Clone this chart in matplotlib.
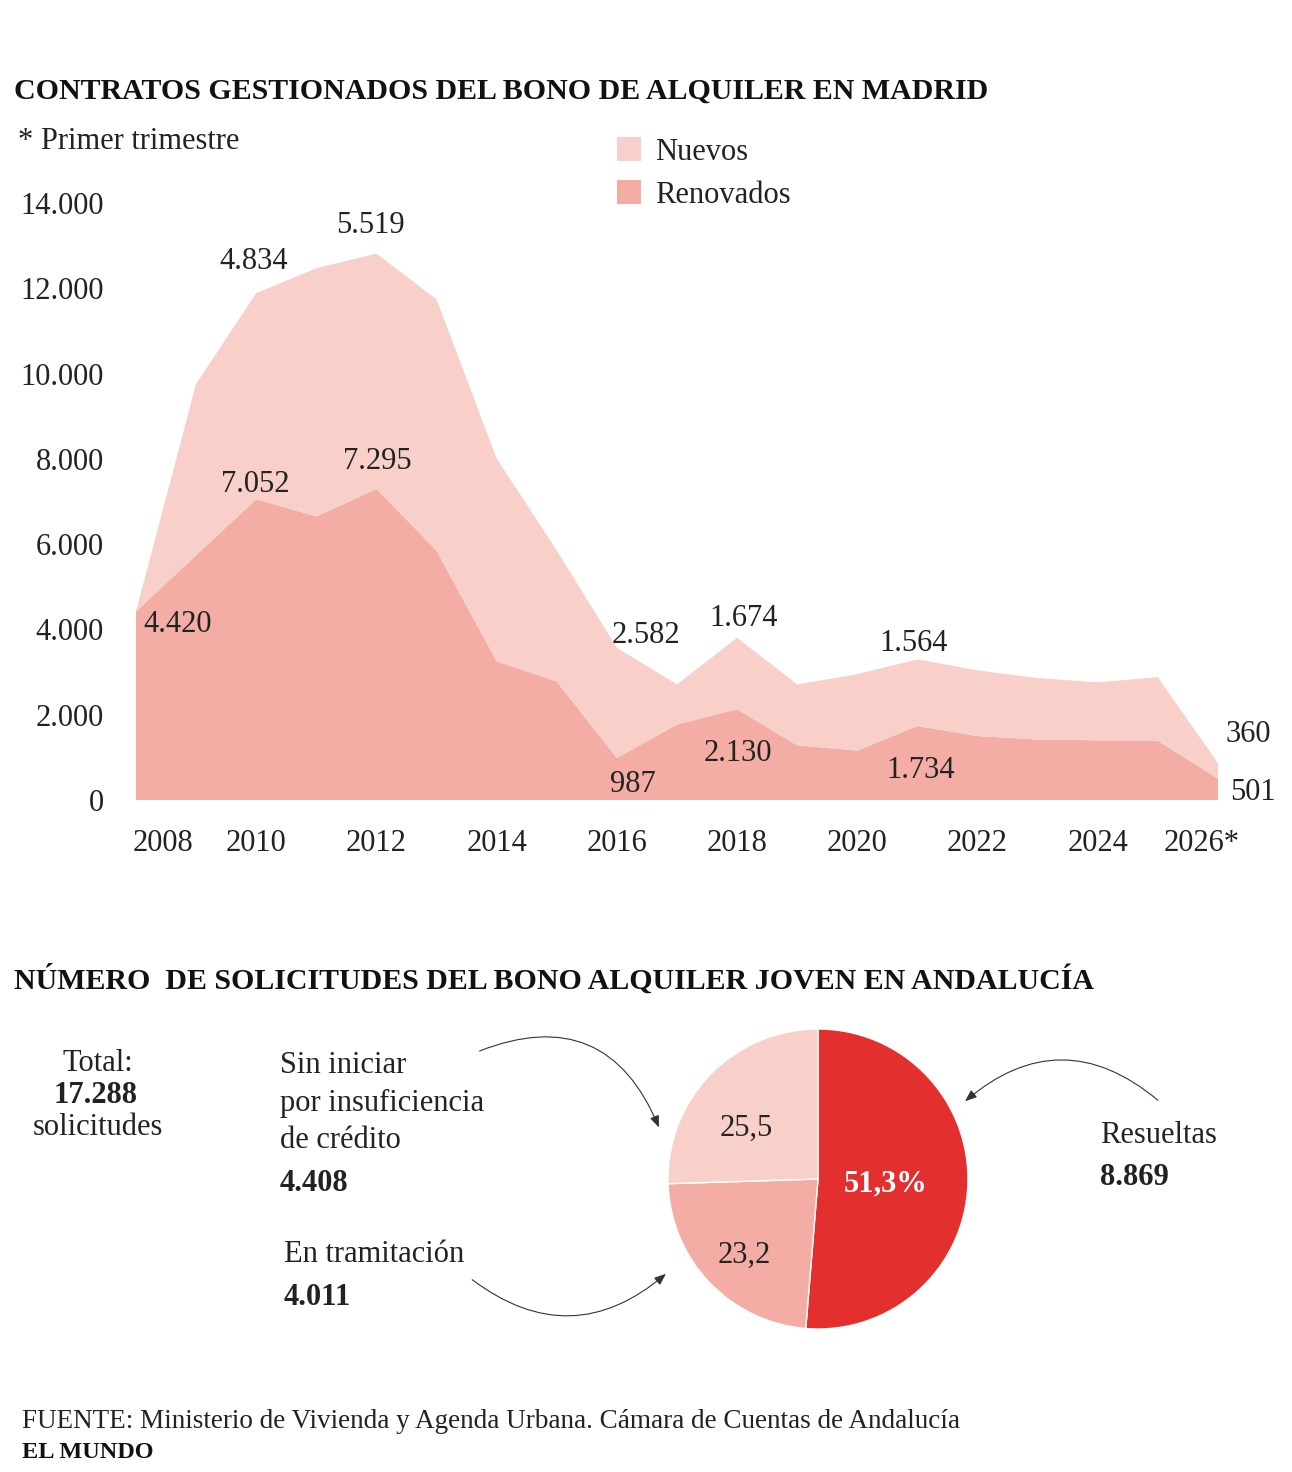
import matplotlib
matplotlib.use('Agg')
import matplotlib.pyplot as plt
from matplotlib.patches import Rectangle, FancyArrowPatch
import matplotlib.transforms as mtransforms

plt.rcParams['font.family'] = ['Liberation Serif', 'DejaVu Serif']

# ---------------- data ----------------
years = list(range(2008, 2027))
renovados = [4420, 5740, 7052, 6650, 7295, 5850, 3250, 2780, 987, 1770, 2130,
             1280, 1160, 1734, 1500, 1420, 1400, 1390, 501]
nuevos = [0, 4020, 4834, 5820, 5519, 5890, 4760, 3070, 2582, 940, 1674,
          1430, 1790, 1564, 1540, 1440, 1360, 1490, 360]

ytick_vals = [0, 2000, 4000, 6000, 8000, 10000, 12000, 14000]
ytick_labels = ['0', '2.000', '4.000', '6.000', '8.000', '10.000', '12.000', '14.000']
xtick_years = [2008, 2010, 2012, 2014, 2016, 2018, 2020, 2022, 2024, 2026]
xtick_labels = ['2008', '2010', '2012', '2014', '2016', '2018', '2020', '2022', '2024', '2026*']

# labelled points: (year, series)
value_labels_years = [2010, 2012, 2010, 2012, 2008, 2016, 2016, 2018, 2018, 2021, 2021, 2026, 2026]
value_labels_series = ['n', 'n', 'r', 'r', 'r', 'n', 'r', 'n', 'r', 'n', 'r', 'n', 'r']

pie_categories = ['Resueltas', 'En tramitación', 'Sin iniciar']
pie_counts = [8869, 4011, 4408]
total_solicitudes = 17288

C_NUE = '#f8d0c9'
C_REN = '#f3ada4'
C_RED = '#e3302f'
TXT = '#222222'

W, H = 1292, 1472
fig = plt.figure(figsize=(W / 100, H / 100), dpi=100)
fig.patch.set_facecolor('white')

FS = 22

# ---------------- area chart ----------------
ax = fig.add_axes([136 / W, 1 - 800 / H, 1082 / W, 597 / H])
ax.stackplot(years, renovados, nuevos, colors=[C_REN, C_NUE], linewidth=0)
ax.set_xlim(2008, 2026)
ax.set_ylim(0, 14000)
for s in ax.spines.values():
    s.set_visible(False)
ax.set_yticks(ytick_vals, ytick_labels, fontsize=FS, color=TXT)
ax.set_xticks(xtick_years, xtick_labels, fontsize=FS, color=TXT)
ax.tick_params(axis='both', length=0)
ax.tick_params(axis='y', pad=23)
ax.tick_params(axis='x', pad=21)
xt = ax.get_xticklabels()
xt[0].set_transform(xt[0].get_transform() + mtransforms.ScaledTranslation(0.27, 0, fig.dpi_scale_trans))
xt[-1].set_transform(xt[-1].get_transform() + mtransforms.ScaledTranslation(-0.16, 0, fig.dpi_scale_trans))

# value labels (offsets in pixels from the stacked vertex)
offsets = [(-3, 32), (-6, 28), (-1, 15), (1, 27), (7, -13), (29, 12), (16, -27),
           (7, 19), (1, -44), (-4, 16), (3, -44), (30, 29), (35, -14)]
for (yr, ser), (dx, dy) in zip(zip(value_labels_years, value_labels_series), offsets):
    i = years.index(yr)
    if ser == 'n':
        yv = renovados[i] + nuevos[i]
        val = nuevos[i]
    else:
        yv = renovados[i]
        val = renovados[i]
    txt = f"{val:,}".replace(',', '.')
    ha = 'left' if yr == 2008 else 'center'
    ax.annotate(txt, xy=(yr, yv), xytext=(dx, dy), textcoords='offset pixels',
                ha=ha, va='center', fontsize=FS, color=TXT, annotation_clip=False)

# ---------------- pie ----------------
axp = fig.add_axes([668 / W, 1 - 1329 / H, 300 / W, 300 / H])
axp.pie(pie_counts, colors=[C_RED, C_REN, C_NUE], startangle=90, counterclock=False,
        wedgeprops=dict(linewidth=1, edgecolor='white'))
axp.set_xlim(-1, 1)
axp.set_ylim(-1, 1)
pcts = [c / total_solicitudes * 100 for c in pie_counts]
pie_lbl_pos = [(0.45, -0.03), (-0.49, -0.51), (-0.48, 0.34)]
for k, (p, pos) in enumerate(zip(pcts, pie_lbl_pos)):
    s = f"{p:.1f}".replace('.', ',')
    if k == 0:
        axp.text(pos[0], pos[1], s + '%', ha='center', va='center', fontsize=FS,
                 color='white', fontweight='bold')
    else:
        axp.text(pos[0], pos[1], s, ha='center', va='center', fontsize=FS, color=TXT)

# ---------------- overlay (texts, legend, arrows) ----------------
ov = fig.add_axes([0, 0, 1, 1])
ov.set_xlim(0, W)
ov.set_ylim(H, 0)
ov.axis('off')
ov.patch.set_alpha(0)

TFS = 21.5
ov.text(14, 99, 'CONTRATOS GESTIONADOS DEL BONO DE ALQUILER EN MADRID', fontsize=TFS,
        fontweight='bold', color='#111111', ha='left', va='baseline')
ov.text(18, 149, '* Primer trimestre', fontsize=FS, color=TXT, ha='left', va='baseline')

ov.add_patch(Rectangle((617, 137), 24, 24, facecolor=C_NUE, edgecolor='none'))
ov.add_patch(Rectangle((617, 180), 24, 24, facecolor=C_REN, edgecolor='none'))
ov.text(655, 160, 'Nuevos', fontsize=FS, color=TXT, ha='left', va='baseline')
ov.text(655, 203, 'Renovados', fontsize=FS, color=TXT, ha='left', va='baseline')

ov.text(14, 989, 'NÚMERO  DE SOLICITUDES DEL BONO ALQUILER JOVEN EN ANDALUCÍA', fontsize=TFS,
        fontweight='bold', color='#111111', ha='left', va='baseline')

ov.text(98, 1071, 'Total:', fontsize=FS, color=TXT, ha='center', va='baseline')
ov.text(96, 1103, f"{total_solicitudes:,}".replace(',', '.'), fontsize=FS, color=TXT,
        ha='center', va='baseline', fontweight='bold')
ov.text(98, 1135, 'solicitudes', fontsize=FS, color=TXT, ha='center', va='baseline')

ov.text(280, 1073, 'Sin iniciar', fontsize=FS, color=TXT, ha='left', va='baseline')
ov.text(280, 1111, 'por insuficiencia', fontsize=FS, color=TXT, ha='left', va='baseline')
ov.text(280, 1148, 'de crédito', fontsize=FS, color=TXT, ha='left', va='baseline')
ov.text(280, 1191, f"{pie_counts[2]:,}".replace(',', '.'), fontsize=FS, color=TXT,
        ha='left', va='baseline', fontweight='bold')

ov.text(284, 1262, 'En tramitación', fontsize=FS, color=TXT, ha='left', va='baseline')
ov.text(284, 1305, f"{pie_counts[1]:,}".replace(',', '.'), fontsize=FS, color=TXT,
        ha='left', va='baseline', fontweight='bold')

ov.text(1100, 1143, 'Resueltas', fontsize=FS, color=TXT, ha='left', va='baseline')
ov.text(1100, 1185, f"{pie_counts[0]:,}".replace(',', '.'), fontsize=FS, color=TXT,
        ha='left', va='baseline', fontweight='bold')

arrows = [((477, 1052), (660, 1130), -0.5),
          ((470, 1278), (668, 1272), 0.41),
          ((1160, 1102), (963, 1103), 0.43)]
for a, b, rad in arrows:
    ov.add_patch(FancyArrowPatch(a, b, connectionstyle=f'arc3,rad={rad}',
                                 arrowstyle='-|>,head_length=0.5,head_width=0.2',
                                 mutation_scale=14, lw=0.8, color='#333333'))

ov.text(22, 1428, 'FUENTE: Ministerio de Vivienda y Agenda Urbana. Cámara de Cuentas de Andalucía',
        fontsize=19.5, color=TXT, ha='left', va='baseline')
ov.text(22, 1458, 'EL MUNDO', fontsize=17.5, color='#111111', ha='left', va='baseline',
        fontweight='bold')

fig.savefig('out.png', dpi=100, facecolor='white')
